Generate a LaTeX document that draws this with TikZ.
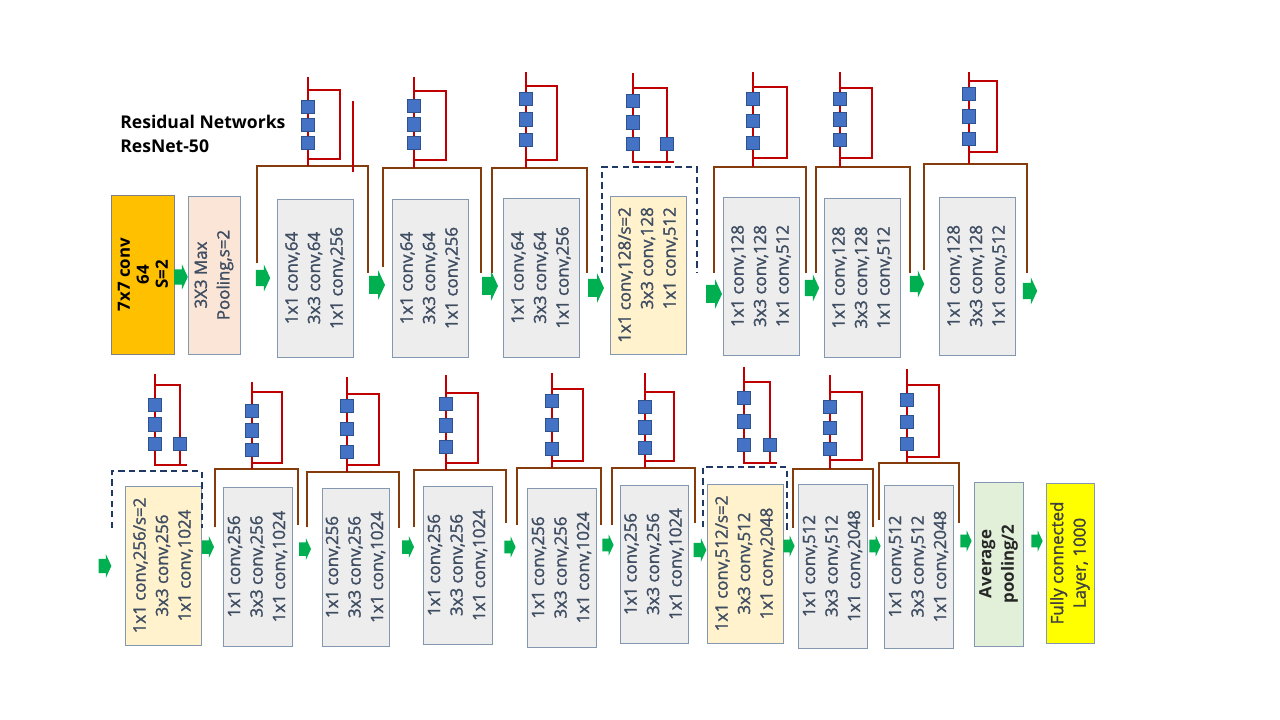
\documentclass[tikz,border=0pt]{standalone}
\usepackage{fontspec}
\setmainfont{Open Sans}
\newfontfamily\boxfont{Open Sans}[FakeBold=1.5]
\usepackage{xcolor}

\definecolor{boxgray}{HTML}{EDEDED}
\definecolor{boxline}{HTML}{8497B0}
\definecolor{txtgray}{HTML}{3E4D62}
\definecolor{convorange}{HTML}{FFC000}
\definecolor{poolpink}{HTML}{FBE5D6}
\definecolor{dsyellow}{HTML}{FFF2CC}
\definecolor{avggreen}{HTML}{E2F0D9}
\definecolor{fcyellow}{HTML}{FFFF00}
\definecolor{skipbrown}{HTML}{843C0C}
\definecolor{resred}{HTML}{C00000}
\definecolor{sqblue}{HTML}{4472C4}
\definecolor{sqline}{HTML}{2F528F}
\definecolor{arrgreen}{HTML}{00B050}
\definecolor{dashnavy}{HTML}{203864}

\newdimen\pxu \pxu=0.025cm

\newcommand{\garrow}[4]{%
  \coordinate (#1) at (#2,#3);
  \fill [arrgreen, shift={(#1)}, scale=#4] (-8,-9) -- (1,-9) -- (1,-15) -- (8,0) -- (1,15) -- (1,9) -- (-8,9) -- cycle;}
\newcommand{\skipline}[5]{\draw [skip] (#1,#2) -- (#1,#3) -- (#4,#3) -- (#4,#5);}
\newcommand{\dsline}[5]{\draw [dsskip] (#1,#2) -- (#1,#3) -- (#4,#3) -- (#4,#5);}
\newcommand{\resid}[9]{%
  \draw [res] (#2,#3) -- (#2,#7);
  \draw [res] (#2,#4) -- (#5,#4) -- (#5,#6) -- (#2,#6);
  \node [sq] (#1a) at (#2,#8) {};
  \node [sq] (#1b) at (#2,{(#8+#9)/2}) {};
  \node [sq] (#1c) at (#2,#9) {};}
\newcommand{\dsresid}[8]{%
  \draw [res] (#2,#3) -- (#2,#6) -- (#5+7,#6);
  \draw [res] (#2,#4) -- (#5,#4) -- (#5,#6);
  \node [sq] (#1a) at (#2,#7) {};
  \node [sq] (#1b) at (#2,{(#7+#8)/2}) {};
  \node [sq] (#1c) at (#2,#8) {};
  \node [sq] (#1d) at (#5,#8) {};}

\begin{document}
\begin{tikzpicture}[x=0.025cm, y=-0.025cm,
    box/.style={draw=boxline, line width=0.7pt, fill=boxgray, rotate=90, align=center,
      inner sep=0pt, text=txtgray, font=\boxfont\fontsize{12}{16}\selectfont},
    wh/.style 2 args={minimum width=#2\pxu, minimum height=#1\pxu},
    title/.style={align=left, inner sep=0pt, font=\bfseries\fontsize{12.5}{16.5}\selectfont},
    skip/.style={draw=skipbrown, line width=1.5pt},
    dsskip/.style={draw=dashnavy, line width=1.5pt, dash pattern=on 4.5pt off 3pt},
    res/.style={draw=resred, line width=1.5pt},
    sq/.style={draw=sqline, line width=0.5pt, fill=sqblue, minimum size=13.5\pxu, inner sep=0pt}]
    \useasboundingbox (0,0) rectangle (1280,720);
    \node [title, anchor=west] (title) at (120,134) {Residual Networks\\ResNet-50};

    % first row
    \node [box, fill=convorange, draw=gray, text=black, wh={63}{159},
      font=\bfseries\fontsize{12}{13.5}\selectfont] (conv1) at (143,274.5) {7x7 conv\\64\\S=2};
    \node [box, fill=poolpink, wh={52}{158}] (pool) at (214,275) {3X3 Max\\Pooling,s=2};
    \node [box, wh={76}{158}] (b1) at (315,278) {1x1 conv,64\\3x3 conv,64\\1x1 conv,256};
    \node [box, wh={76}{158}] (b2) at (430,278) {1x1 conv,64\\3x3 conv,64\\1x1 conv,256};
    \node [box, wh={76}{159}] (b3) at (541,277.5) {1x1 conv,64\\3x3 conv,64\\1x1 conv,256};
    \node [box, fill=dsyellow, align=right, wh={76}{158}] (b4) at (648,275) {1x1 conv,128/s=2\\3x3 conv,128\\1x1 conv,512};
    \node [box, wh={76}{158}] (b5) at (761,276) {1x1 conv,128\\3x3 conv,128\\1x1 conv,512};
    \node [box, wh={76}{159}] (b6) at (862,277.5) {1x1 conv,128\\3x3 conv,128\\1x1 conv,512};
    \node [box, wh={76}{158}] (b7) at (977,276) {1x1 conv,128\\3x3 conv,128\\1x1 conv,512};

    \garrow{a0}{181}{277}{0.85}
    \garrow{a1}{263}{278}{0.9}
    \garrow{a2}{377}{285}{1}
    \garrow{a3}{490}{286}{1}
    \garrow{a4}{596}{288}{1}
    \garrow{a5}{714}{294}{1}
    \garrow{a6}{812}{288}{0.9}
    \garrow{a7}{917}{284}{0.9}
    \garrow{a8}{1030}{291}{0.9}

    \skipline{257}{263}{166}{368}{273}
    \skipline{383}{267}{168}{481}{273}
    \skipline{492}{273}{168}{587}{273}
    \dsline{602}{273}{167}{697}{273}
    \skipline{714}{273}{167}{806}{273}
    \skipline{816}{273}{167}{910}{273}
    \skipline{924}{270}{164}{1027}{273}

    \resid{r1}{308}{77}{90}{340}{159}{166}{107}{143}
    \draw [res] (353,101) -- (353,172);
    \resid{r2}{414}{77}{91}{446}{160}{168}{106}{143}
    \resid{r3}{526}{72}{86}{557}{160}{168}{99}{140}
    \dsresid{r4}{633}{73}{88}{667}{162}{101}{144}
    \resid{r5}{753}{72}{87}{787}{158}{167}{99}{143}
    \resid{r6}{840}{72}{88}{872}{158}{167}{99}{140}
    \resid{r7}{969}{72}{81}{997}{152}{164}{94}{139}

    % second row
    \node [box, fill=dsyellow, wh={76}{159}] (b8) at (163,565.5) {1x1 conv,256/s=2\\3x3 conv,256\\1x1 conv,1024};
    \node [box, wh={69}{159}] (b9) at (257.5,566.5) {1x1 conv,256\\3x3 conv,256\\1x1 conv,1024};
    \node [box, wh={67}{158}] (b10) at (355.5,567) {1x1 conv,256\\3x3 conv,256\\1x1 conv,1024};
    \node [box, wh={69}{158}] (b11) at (457.5,565) {1x1 conv,256\\3x3 conv,256\\1x1 conv,1024};
    \node [box, wh={69}{159}] (b12) at (561.5,567.5) {1x1 conv,256\\3x3 conv,256\\1x1 conv,1024};
    \node [box, wh={68}{158}] (b13) at (654,564) {1x1 conv,256\\3x3 conv,256\\1x1 conv,1024};
    \node [box, fill=dsyellow, wh={76}{159}] (b14) at (745,563.5) {1x1 conv,512/s=2\\3x3 conv,512\\1x1 conv,2048};
    \node [box, wh={69}{164}] (b15) at (832.5,566) {1x1 conv,512\\3x3 conv,512\\1x1 conv,2048};
    \node [box, wh={69}{163}] (b16) at (918.5,566.5) {1x1 conv,512\\3x3 conv,512\\1x1 conv,2048};
    \node [box, fill=avggreen, text=black!85, wh={49}{164},
      font=\bfseries\fontsize{12}{16}\selectfont] (avg) at (998.5,564) {Average\\pooling/2};
    \node [box, fill=fcyellow, text=black!75, wh={48}{160}] (fc) at (1070,563) {Fully connected\\Layer, 1000};

    \garrow{c0}{105}{566}{0.8}
    \garrow{c1}{208}{547}{0.75}
    \garrow{c2}{305}{549}{0.75}
    \garrow{c3}{408}{547}{0.75}
    \garrow{c4}{510}{547}{0.7}
    \garrow{c5}{608}{545}{0.7}
    \garrow{c6}{700}{550}{0.8}
    \garrow{c7}{789}{546}{0.7}
    \garrow{c8}{875}{546}{0.7}
    \garrow{c9}{966}{541}{0.7}
    \garrow{c10}{1037}{541}{0.7}

    \dsline{112}{528}{471}{202}{528}
    \skipline{215}{527}{469}{298}{525}
    \skipline{307}{527}{472}{399}{528}
    \skipline{414}{527}{470}{506}{523}
    \skipline{517}{525}{468}{601}{525}
    \skipline{612}{525}{468}{695}{523}
    \dsline{703}{527}{467}{787}{530}
    \skipline{793}{528}{469}{873}{527}
    \skipline{879}{520}{463}{959}{523}

    \dsresid{r8}{155}{374}{385}{180}{465}{405}{444}
    \resid{r9}{252}{382}{392}{282}{463}{469}{411}{450}
    \resid{r10}{347}{377}{394}{379}{465}{472}{406}{452}
    \resid{r11}{446}{375}{393}{478}{463}{470}{404}{447}
    \resid{r12}{552}{373}{389}{583}{461}{468}{401}{449}
    \resid{r13}{645}{373}{392}{674}{461}{468}{407}{448}
    \dsresid{r14}{744}{367}{382}{770}{463}{398}{445}
    \resid{r15}{830}{375}{392}{862}{460}{469}{407}{449}
    \resid{r16}{907}{369}{385}{939}{457}{463}{400}{444}
\end{tikzpicture}
\end{document}
